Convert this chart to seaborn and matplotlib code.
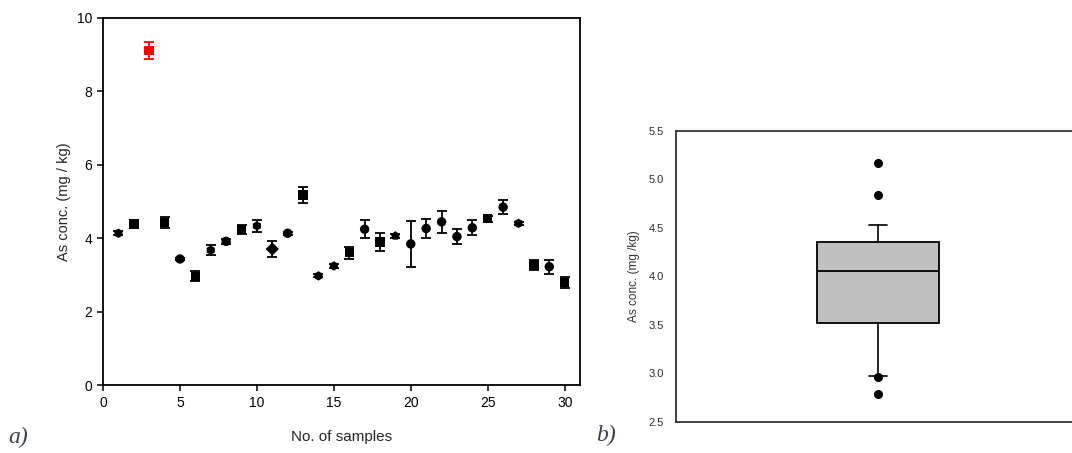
import numpy as np
import pandas as pd
import matplotlib
matplotlib.use("Agg")
import matplotlib.pyplot as plt
import seaborn as sns

# ---------------- data ----------------
sample_no = list(range(1, 31))
as_conc = [4.13, 4.38, 9.10, 4.42, 3.43, 2.96, 3.67, 3.91, 4.23, 4.33,
           3.70, 4.13, 5.17, 2.97, 3.24, 3.60, 4.24, 3.89, 4.06, 3.84,
           4.26, 4.44, 4.04, 4.28, 4.53, 4.84, 4.40, 3.27, 3.22, 2.79]
as_err = [0.05, 0.11, 0.24, 0.15, 0.04, 0.13, 0.14, 0.07, 0.12, 0.17,
          0.22, 0.04, 0.21, 0.04, 0.06, 0.16, 0.24, 0.24, 0.05, 0.63,
          0.26, 0.29, 0.21, 0.21, 0.08, 0.19, 0.04, 0.13, 0.19, 0.14]
outlier_samples = [3]
xticks_a = [0, 5, 10, 15, 20, 25, 30]
yticks_a = [0, 2, 4, 6, 8, 10]
yticks_b = [2.5, 3.0, 3.5, 4.0, 4.5, 5.0, 5.5]
whisker_pct = [10, 90]

# marker shape per sample (style only)
marker_shape = ['h', 's', 's', 's', 'o', 's', 'h', 'o', 's', 'h',
                'D', 'o', 's', 'h', 'h', 's', 'o', 's', 'p', 'o',
                'o', 'o', 'o', 'o', 's', 'o', 'h', 's', 'o', 's']

df = pd.DataFrame({"sample": sample_no, "conc": as_conc, "err": as_err,
                   "shape": marker_shape})
df["group"] = np.where(df["sample"].isin(outlier_samples), "out", "normal")

# ---------------- style ----------------
sns.set_theme(style="white")
plt.rcParams["font.family"] = ["Liberation Sans", "DejaVu Sans"]

fig = plt.figure(figsize=(10.72, 4.53), dpi=100)
ax1 = fig.add_axes([0.0961, 0.150, 0.4450, 0.8113])
ax2 = fig.add_axes([0.6306, 0.0684, 0.3694, 0.6431])

# ---------------- panel a ----------------
normal = df[df["group"] == "normal"]
outl = df[df["group"] == "out"]
ax1.errorbar(normal["sample"], normal["conc"], yerr=normal["err"], fmt="none",
             ecolor="black", elinewidth=1.3, capsize=3.6, capthick=1.3, zorder=2)
ax1.errorbar(outl["sample"], outl["conc"], yerr=outl["err"], fmt="none",
             ecolor="#ff0000", elinewidth=1.3, capsize=3.6, capthick=1.3, zorder=2)
markers = {m: m for m in sorted(set(marker_shape))}
sns.scatterplot(data=df, x="sample", y="conc", hue="group", style="shape",
                markers=markers, palette={"normal": "black", "out": "#ff0000"},
                s=46, linewidth=0, legend=False, ax=ax1, zorder=3)

ax1.set_xlim(0, 31)
ax1.set_ylim(0, 10)
ax1.set_xticks(xticks_a)
ax1.set_yticks(yticks_a)
ax1.set_xlabel("No. of samples", fontsize=11, labelpad=14)
ax1.set_ylabel("As conc. (mg / kg)", fontsize=10.5, labelpad=4)
ax1.tick_params(axis="both", direction="out", length=4, width=1.1,
                labelsize=10, pad=4, colors="black", left=True, bottom=True)
for sp in ax1.spines.values():
    sp.set_visible(True)
    sp.set_color("black")
    sp.set_linewidth(1.3)

# ---------------- panel b ----------------
box_vals = np.array(normal["conc"])
q1, med, q3 = np.percentile(box_vals, [25, 50, 75], method="weibull")
lo, hi = np.percentile(box_vals, whisker_pct, method="weibull")
stats = [{
    "med": med, "q1": q1, "q3": q3,
    "whislo": box_vals[box_vals >= lo - 1e-9].min(),
    "whishi": box_vals[box_vals <= hi + 1e-9].max(),
    "fliers": box_vals[(box_vals < lo - 1e-9) | (box_vals > hi + 1e-9)],
    "label": "",
}]
ax2.bxp(stats, positions=[0], widths=0.308, patch_artist=True, capwidths=[0.045],
        boxprops=dict(facecolor="#c0c0c0", edgecolor="black", linewidth=1.3),
        medianprops=dict(color="black", linewidth=1.3),
        whiskerprops=dict(color="black", linewidth=1.2),
        capprops=dict(color="black", linewidth=1.2),
        flierprops=dict(marker="o", markerfacecolor="black",
                        markeredgecolor="black", markersize=5.5))
ax2.set_xlim(-0.51, 0.49)
ax2.set_ylim(2.5, 5.5)
ax2.set_yticks(yticks_b)
ax2.set_yticklabels([f"{v:.1f}" for v in yticks_b])
ax2.set_xticks([0])
ax2.set_xticklabels([""])
ax2.set_ylabel("As conc. (mg /kg)", fontsize=8.5, color="#333333", labelpad=6)
ax2.tick_params(axis="y", length=0, pad=9, labelsize=8, labelcolor="#2a2a3a")
ax2.tick_params(axis="x", direction="out", length=4, width=1.0, color="black")
for name, sp in ax2.spines.items():
    sp.set_color("#333333")
    sp.set_linewidth(1.3)
ax2.spines["right"].set_visible(False)

# panel labels
fig.text(0.008, 0.022, "a)", fontsize=17, fontstyle="italic",
         family=["Liberation Serif", "DejaVu Serif"], color="#3b3f4f")
fig.text(0.556, 0.027, "b)", fontsize=17, fontstyle="italic",
         family=["Liberation Serif", "DejaVu Serif"], color="#3b3f4f")

fig.savefig("out.png", dpi=100)
